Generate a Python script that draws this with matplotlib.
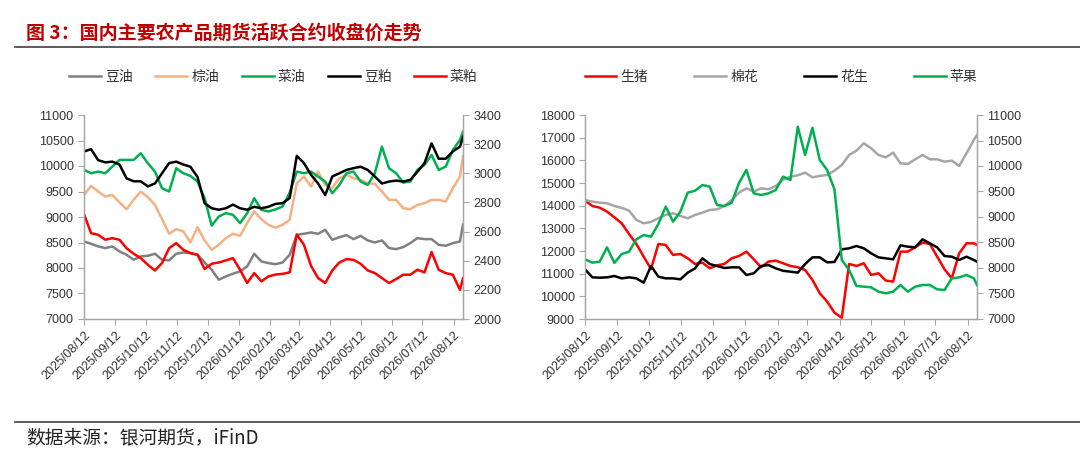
import matplotlib
matplotlib.use("Agg")
import matplotlib.pyplot as plt
import matplotlib.dates as mdates
import pandas as pd
from matplotlib.lines import Line2D

plt.rcParams['font.family'] = ['Liberation Sans', 'Noto Sans CJK SC']

# weekly closes (last point = latest day)
dates = list(pd.date_range("2025-08-12", periods=54, freq="7D")) + [pd.Timestamp("2026-08-21")]

# left panel, left axis
soy_oil = [8520, 8475, 8423, 8390, 8423, 8325, 8260, 8162, 8227, 8240, 8279, 8162, 8149, 8279,
           8305, 8292, 8260, 8109, 7966, 7770, 7835, 7888, 7933, 8031, 8279, 8129, 8096, 8075,
           8109, 8260, 8651, 8671, 8697, 8671, 8749, 8553, 8605, 8644, 8566, 8631, 8540, 8501,
           8540, 8390, 8370, 8410, 8488, 8586, 8566, 8566, 8455, 8436, 8488, 8520, 8850]
palm_oil = [9434, 9610, 9500, 9401, 9434, 9284, 9153, 9336, 9500, 9388, 9238, 8958, 8671, 8762,
            8716, 8501, 8801, 8540, 8357, 8455, 8586, 8671, 8631, 8879, 9108, 8958, 8847, 8790,
            8847, 8945, 9662, 9793, 9597, 9890, 9630, 9565, 9760, 9826, 9760, 9728, 9662, 9650,
            9500, 9336, 9336, 9173, 9153, 9238, 9271, 9336, 9336, 9304, 9565, 9793, 10185]
rape_oil = [9923, 9858, 9890, 9858, 9989, 10119, 10119, 10119, 10250, 10054, 9890, 9565, 9500, 9956,
            9858, 9806, 9695, 9369, 8830, 9010, 9075, 9043, 8880, 9075, 9369, 9140, 9108, 9150,
            9206, 9480, 9890, 9858, 9890, 9793, 9695, 9467, 9630, 9858, 9890, 9695, 9630, 9858,
            10380, 9956, 9858, 9675, 9695, 9923, 10021, 10217, 9923, 9989, 10315, 10510, 10674]
# left panel, right axis
soy_meal = [3150, 3165, 3090, 3075, 3080, 3060, 2965, 2945, 2945, 2910, 2930, 3000, 3070, 3080,
            3060, 3045, 2975, 2795, 2760, 2750, 2760, 2785, 2760, 2750, 2770, 2760, 2770, 2790,
            2795, 2830, 3120, 3070, 2990, 2930, 2850, 2978, 3000, 3023, 3035, 3045, 3023, 2978,
            2930, 2943, 2950, 2943, 2955, 3010, 3070, 3205, 3100, 3100, 3150, 3183, 3250]
rape_meal = [2720, 2589, 2578, 2544, 2555, 2544, 2486, 2448, 2418, 2372, 2333, 2384, 2486, 2521,
             2475, 2452, 2441, 2343, 2379, 2388, 2402, 2418, 2338, 2247, 2315, 2258, 2292, 2305,
             2310, 2320, 2580, 2510, 2365, 2281, 2247, 2333, 2388, 2411, 2406, 2379, 2333, 2315,
             2281, 2247, 2274, 2304, 2304, 2338, 2320, 2460, 2338, 2315, 2304, 2200, 2280]

# right panel, left axis
hog = [14222, 13987, 13913, 13737, 13487, 13222, 12752, 12311, 11752, 11200, 12311, 12267, 11826, 11870,
       11679, 11429, 11488, 11238, 11370, 11429, 11679, 11782, 11973, 11635, 11282, 11532, 11576, 11458,
       11341, 11282, 11164, 10724, 10136, 9768, 9283, 9050, 11429, 11341, 11458, 10944, 11018, 10694,
       10650, 11973, 11973, 12164, 12370, 12311, 11752, 11194, 10797, 11899, 12340, 12340, 12267]
cotton = [14251, 14178, 14134, 14105, 13987, 13899, 13781, 13370, 13222, 13281, 13443, 13590, 13664, 13546,
          13443, 13590, 13693, 13810, 13840, 13987, 14251, 14575, 14766, 14619, 14766, 14722, 14869, 15150,
          15280, 15339, 15457, 15251, 15310, 15354, 15545, 15795, 16236, 16427, 16751, 16530, 16236, 16133,
          16339, 15868, 15839, 16045, 16236, 16045, 16045, 15942, 15986, 15751, 16310, 16898, 17118]
# right panel, right axis
peanut = [7974, 7817, 7810, 7817, 7843, 7797, 7817, 7797, 7712, 8039, 7830, 7797, 7797, 7778,
          7909, 7993, 8190, 8078, 8039, 8000, 8013, 8013, 7863, 7896, 8039, 8059, 7993, 7945,
          7928, 7909, 8078, 8209, 8209, 8111, 8118, 8366, 8386, 8431, 8386, 8288, 8209, 8189,
          8170, 8444, 8418, 8405, 8562, 8484, 8405, 8235, 8222, 8157, 8222, 8157, 8124]
apple = [8170, 8105, 8124, 8405, 8100, 8274, 8320, 8562, 8647, 8614, 8863, 9203, 8908, 9105,
         9477, 9516, 9627, 9595, 9235, 9216, 9281, 9673, 9922, 9464, 9431, 9464, 9529, 9791,
         9725, 10770, 10216, 10750, 10118, 9922, 9542, 8157, 7961, 7647, 7634, 7621, 7536, 7503,
         7536, 7667, 7536, 7634, 7667, 7667, 7582, 7569, 7797, 7817, 7863, 7797, 7667]

CJK = ['Noto Sans CJK SC', 'DejaVu Sans']
TXT = '#333333'
AXC = '#a6a6a6'
LW = 1.8

fig = plt.figure(figsize=(10.8, 4.54), dpi=100)


def style(ax, twin, ylim, ystep, ylim2, ystep2, ncol_gap):
    for a in (ax, twin):
        a.spines['top'].set_visible(False)
        for s in ('left', 'right', 'bottom'):
            a.spines[s].set_color(AXC)
            a.spines[s].set_linewidth(0.9)
        a.tick_params(labelsize=9, colors=TXT, length=4, width=0.8)
        a.tick_params(color=AXC)
    ax.set_ylim(*ylim)
    ax.set_yticks(range(ylim[0], ylim[1] + 1, ystep))
    twin.set_ylim(*ylim2)
    twin.set_yticks(range(ylim2[0], ylim2[1] + 1, ystep2))
    ax.set_xlim(dates[0], dates[-1])
    ax.xaxis.set_major_locator(mdates.MonthLocator(bymonthday=12))
    ax.xaxis.set_major_formatter(mdates.DateFormatter('%Y/%m/%d'))
    plt.setp(ax.get_xticklabels(), rotation=45, ha='right', rotation_mode='anchor')
    handles = ax.get_lines() + twin.get_lines()
    ax.legend(handles, [h.get_label() for h in handles], loc='center',
              bbox_to_anchor=(0.5, 1.186), ncol=len(handles), frameon=False,
              prop={'family': CJK, 'size': 10}, handlelength=2.3, handletextpad=0.3,
              columnspacing=ncol_gap, labelcolor=TXT)


# left panel: oils and meals
ax1 = fig.add_axes([84 / 1080, 1 - 319 / 454, 379 / 1080, 204 / 454])
ax1b = ax1.twinx()
ax1.plot(dates, soy_oil, color='#808080', lw=LW, label='豆油')
ax1.plot(dates, palm_oil, color='#f4b183', lw=LW, label='棕油')
ax1.plot(dates, rape_oil, color='#00b050', lw=LW, label='菜油')
ax1b.plot(dates, soy_meal, color='#000000', lw=LW, label='豆粕')
ax1b.plot(dates, rape_meal, color='#ff0000', lw=LW, label='菜粕')
style(ax1, ax1b, (7000, 11000), 500, (2000, 3400), 200, 1.6)

# right panel: hog, cotton, peanut, apple
ax2 = fig.add_axes([585 / 1080, 1 - 319 / 454, 392 / 1080, 204 / 454])
ax2b = ax2.twinx()
ax2.plot(dates, hog, color='#ff0000', lw=LW, label='生猪')
ax2.plot(dates, cotton, color='#a6a6a6', lw=LW, label='棉花')
ax2b.plot(dates, peanut, color='#000000', lw=LW, label='花生')
ax2b.plot(dates, apple, color='#00b050', lw=LW, label='苹果')
style(ax2, ax2b, (9000, 18000), 1000, (7000, 11000), 500, 3.3)

# title, rules and source
fig.text(26 / 1080, 1 - 33 / 454, '图 3：国内主要农产品期货活跃合约收盘价走势',
         color='#c00000', fontsize=13.7, fontweight='bold', family=CJK, va='center')
fig.add_artist(Line2D([15 / 1080, 1], [1 - 47 / 454] * 2, color='#404040', lw=1.2))
fig.add_artist(Line2D([15 / 1080, 1], [1 - 422 / 454] * 2, color='#404040', lw=1.2))
fig.text(26 / 1080, 1 - 438 / 454, '数据来源：银河期货，iFinD',
         color='#222222', fontsize=13.5, family=CJK, va='center')

fig.savefig('out.png', dpi=100)
